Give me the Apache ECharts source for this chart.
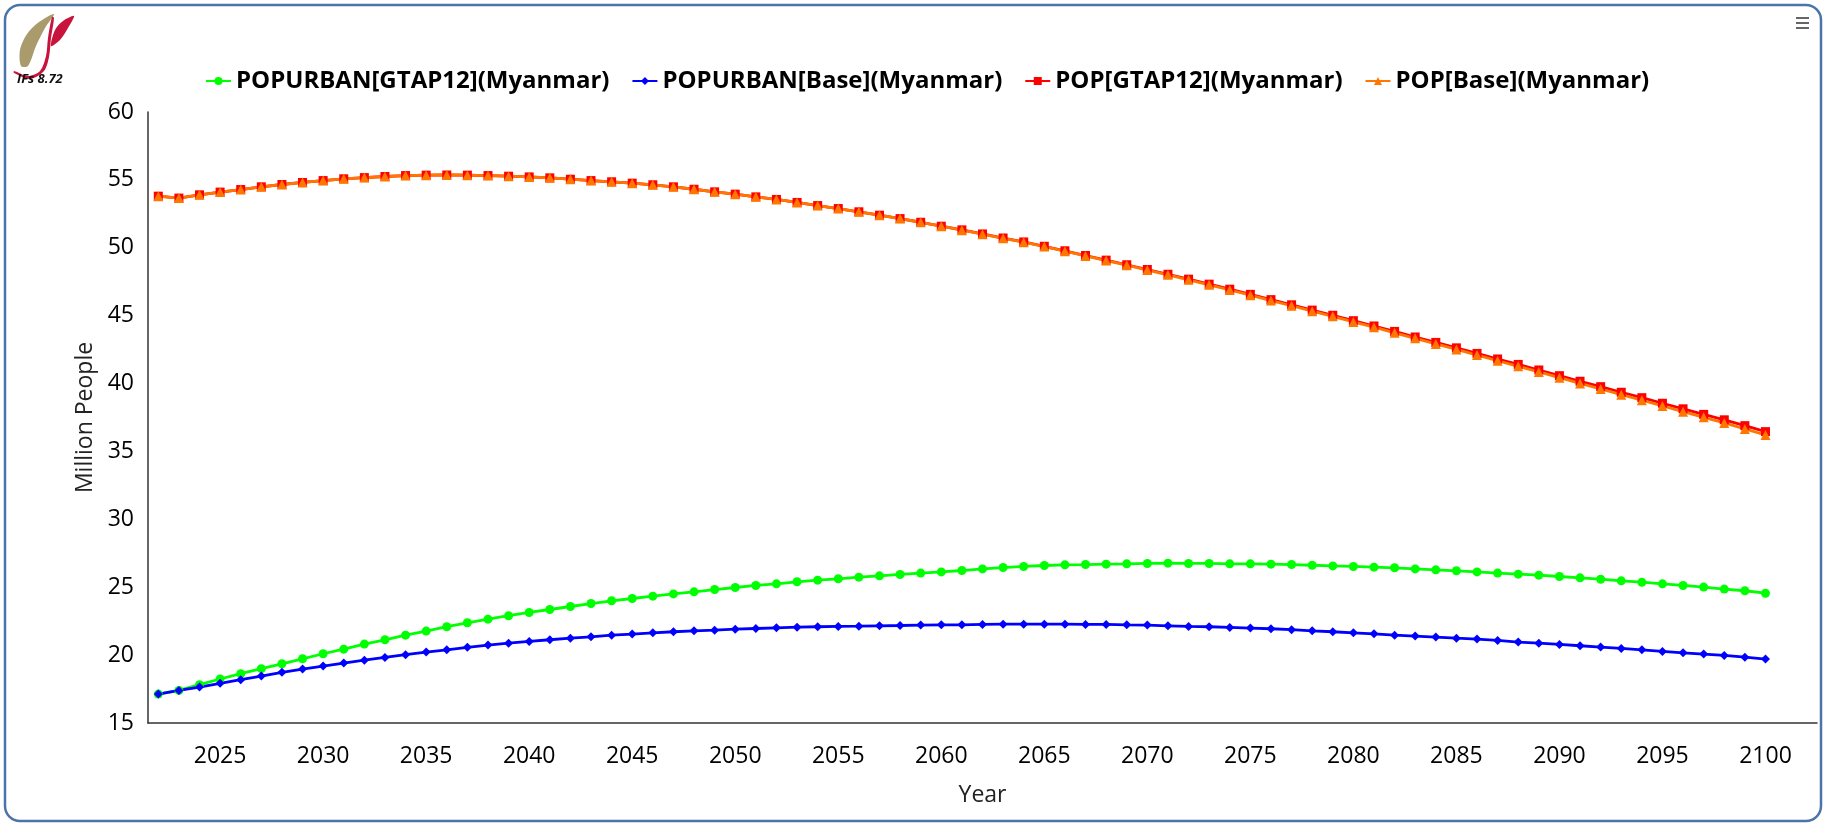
<!DOCTYPE html>
<html>
<head>
<meta charset="utf-8">
<script src="https://cdn.jsdelivr.net/npm/echarts@6/dist/echarts.min.js"></script>
<style>
html,body{margin:0;padding:0;background:#fff;}
#chart{width:1831px;height:830px;}
</style>
</head>
<body>
<div id="chart"></div>
<script>
const years = [];
for (let y = 2022; y <= 2100; y++) years.push(y);

const xTickLabels = [2025,2030,2035,2040,2045,2050,2055,2060,2065,2070,2075,2080,2085,2090,2095,2100];
const yTickLabels = [15,20,25,30,35,40,45,50,55,60];

const popUrbanGTAP12 = [
17.13,17.40,17.82,18.24,18.63,19.00,19.36,19.73,20.10,20.44,
20.81,21.13,21.47,21.77,22.09,22.38,22.65,22.90,23.14,23.36,
23.58,23.80,24.00,24.17,24.34,24.51,24.66,24.83,24.98,25.13,
25.25,25.40,25.52,25.62,25.74,25.84,25.94,26.04,26.13,26.23,
26.35,26.45,26.53,26.60,26.65,26.67,26.70,26.72,26.75,26.77,
26.75,26.75,26.72,26.72,26.70,26.67,26.62,26.57,26.53,26.48,
26.43,26.35,26.28,26.21,26.13,26.04,25.96,25.89,25.79,25.69,
25.59,25.47,25.37,25.25,25.13,25.01,24.86,24.74,24.56
];

const popUrbanBase = [
17.13,17.40,17.65,17.92,18.19,18.46,18.73,18.97,19.19,19.41,
19.63,19.83,20.03,20.22,20.39,20.57,20.74,20.88,21.01,21.13,
21.25,21.35,21.47,21.55,21.64,21.72,21.79,21.84,21.91,21.96,
22.01,22.06,22.09,22.11,22.13,22.16,22.18,22.21,22.23,22.23,
22.26,22.28,22.28,22.28,22.28,22.26,22.26,22.23,22.21,22.16,
22.11,22.09,22.04,21.99,21.94,21.87,21.79,21.72,21.64,21.57,
21.47,21.40,21.33,21.25,21.18,21.08,20.96,20.88,20.79,20.69,
20.59,20.49,20.39,20.27,20.17,20.08,19.98,19.85,19.71
];

const popGTAP12 = [
53.80,53.66,53.90,54.10,54.29,54.49,54.66,54.81,54.95,55.08,
55.17,55.25,55.32,55.35,55.36,55.35,55.32,55.27,55.22,55.15,
55.05,54.95,54.86,54.76,54.64,54.49,54.31,54.12,53.95,53.75,
53.56,53.34,53.11,52.89,52.65,52.40,52.15,51.88,51.59,51.32,
51.02,50.72,50.43,50.11,49.78,49.43,49.09,48.75,48.40,48.05,
47.69,47.32,46.95,46.57,46.18,45.80,45.41,45.03,44.63,44.24,
43.84,43.43,43.03,42.63,42.22,41.81,41.41,41.00,40.58,40.17,
39.77,39.36,38.96,38.55,38.14,37.73,37.33,36.90,36.46
];

const popBase = [
53.80,53.66,53.90,54.10,54.29,54.49,54.66,54.81,54.95,55.08,
55.17,55.25,55.32,55.35,55.36,55.35,55.32,55.27,55.22,55.15,
55.05,54.95,54.86,54.76,54.64,54.49,54.31,54.12,53.95,53.75,
53.56,53.34,53.11,52.89,52.65,52.40,52.15,51.88,51.59,51.30,
51.00,50.70,50.41,50.09,49.75,49.40,49.06,48.72,48.36,48.01,
47.64,47.27,46.89,46.51,46.11,45.73,45.33,44.95,44.54,44.15,
43.74,43.33,42.92,42.51,42.10,41.68,41.27,40.86,40.43,40.01,
39.60,39.18,38.77,38.35,37.93,37.51,37.10,36.66,36.21
];

const seriesNames = [
  'POPURBAN[GTAP12](Myanmar)',
  'POPURBAN[Base](Myanmar)',
  'POP[GTAP12](Myanmar)',
  'POP[Base](Myanmar)'
];

const FONT = "'Open Sans', 'Noto Sans', sans-serif";
const pairs = arr => years.map((y, i) => [y, arr[i]]);

const chart = echarts.init(document.getElementById('chart'), null, {renderer: 'canvas'});

function mk(name, data, color, symbol, size) {
  return {
    name: name,
    type: 'line',
    data: pairs(data),
    symbol: symbol,
    symbolSize: size,
    showSymbol: true,
    lineStyle: {color: color, width: 2.8},
    itemStyle: {color: color},
    emphasis: {disabled: true},
    animation: false
  };
}

chart.setOption({
  animation: false,
  backgroundColor: '#fff',
  textStyle: {fontFamily: FONT},
  grid: {left: 148, right: 14, top: 112, bottom: 107, containLabel: false},
  legend: {
    top: 64,
    left: 200,
    itemWidth: 25,
    itemHeight: 10,
    itemGap: 22,
    textStyle: {fontFamily: FONT, fontSize: 24, fontWeight: 'bold', color: '#000'},
    data: seriesNames
  },
  xAxis: {
    type: 'value',
    min: 2021.5,
    max: 2102.5,
    interval: 0.5,
    name: 'Year',
    nameLocation: 'middle',
    nameGap: 61,
    nameTextStyle: {fontFamily: FONT, fontSize: 23, color: '#222'},
    axisLine: {show: true, lineStyle: {color: '#333', width: 1.5}},
    axisTick: {show: false},
    splitLine: {show: false},
    axisLabel: {
      fontFamily: FONT, fontSize: 23, color: '#000', margin: 22,
      formatter: v => (xTickLabels.indexOf(v) >= 0 ? String(v) : '')
    }
  },
  yAxis: {
    type: 'value',
    min: yTickLabels[0],
    max: yTickLabels[yTickLabels.length - 1],
    interval: 5,
    name: 'Million People',
    nameLocation: 'middle',
    nameGap: 47,
    nameTextStyle: {fontFamily: FONT, fontSize: 23, color: '#222'},
    axisLine: {show: true, lineStyle: {color: '#333', width: 1.5}},
    axisTick: {show: false},
    splitLine: {show: false},
    axisLabel: {fontFamily: FONT, fontSize: 23, color: '#000', margin: 14}
  },
  series: [
    mk(seriesNames[0], popUrbanGTAP12, '#00ff00', 'circle', 9),
    mk(seriesNames[1], popUrbanBase, '#0000ff', 'diamond', 9),
    mk(seriesNames[2], popGTAP12, '#ff0000', 'rect', 9),
    mk(seriesNames[3], popBase, '#ff7700', 'triangle', 10)
  ],
  graphic: [
    {type: 'rect', silent: true, z: 100,
      shape: {x: 5, y: 5, width: 1816, height: 816, r: 15},
      style: {fill: 'none', stroke: '#4a74aa', lineWidth: 2.5}},
    {type: 'polygon', silent: true, z: 100,
      shape: {points: [[21,66],[20,50],[27,34],[39,22],[54,14],[45,28],[36,46],[28,66]], smooth: 0.3},
      style: {fill: '#a99b6b'}},
    {type: 'polygon', silent: true, z: 101,
      shape: {points: [[14,71],[28,76],[40,71],[46,56],[48,38],[52,17],[54,18],[51,38],[49,57],[44,71],[30,79],[14,73]], smooth: 0.3},
      style: {fill: '#c8143c'}},
    {type: 'polygon', silent: true, z: 101,
      shape: {points: [[51,46],[55,30],[63,21],[74,16],[68,28],[60,40]], smooth: 0.3},
      style: {fill: '#c8143c'}},
    {type: 'text', silent: true, z: 101, left: 17, top: 73,
      style: {text: 'IFs 8.72', fontSize: 13, fontStyle: 'italic', fontWeight: 'bold', fill: '#111', fontFamily: FONT}},
    {type: 'rect', silent: true, z: 101, shape: {x: 1796, y: 17, width: 13, height: 2}, style: {fill: '#666'}},
    {type: 'rect', silent: true, z: 101, shape: {x: 1796, y: 22, width: 13, height: 2}, style: {fill: '#666'}},
    {type: 'rect', silent: true, z: 101, shape: {x: 1796, y: 27, width: 13, height: 2}, style: {fill: '#666'}}
  ]
});
</script>
</body>
</html>
